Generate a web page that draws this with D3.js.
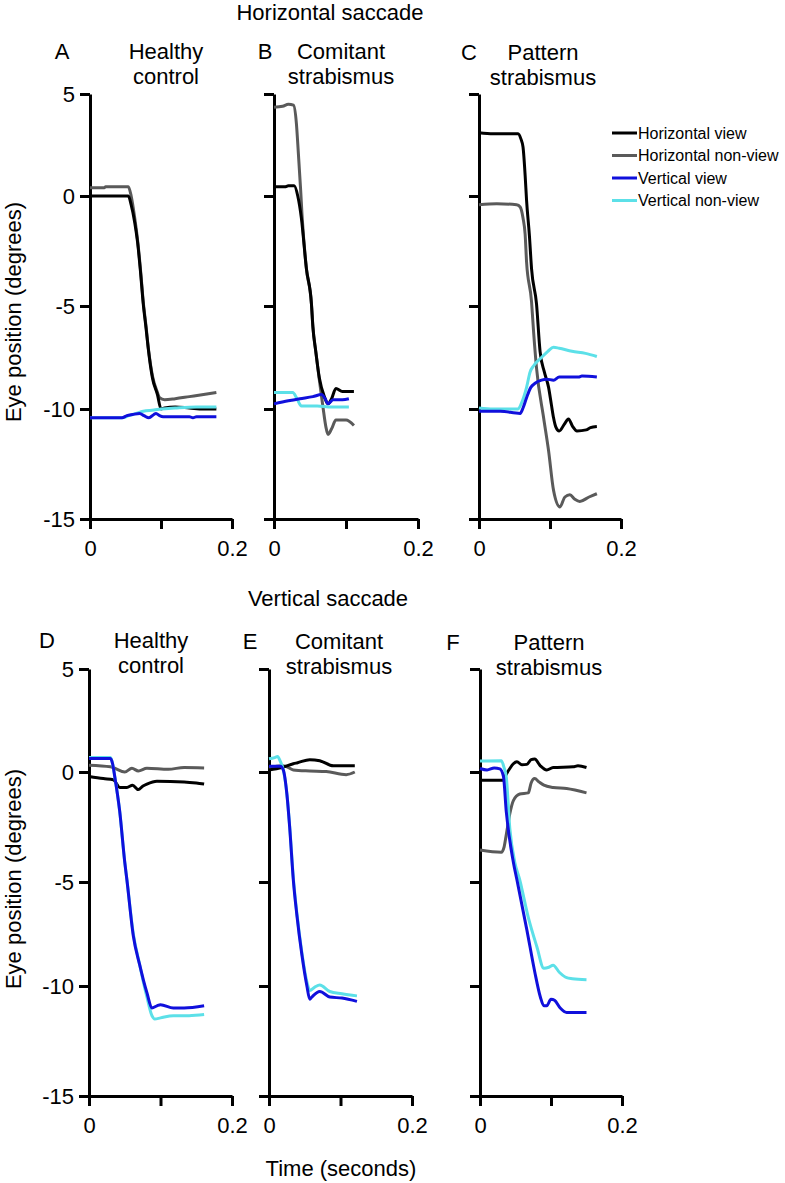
<!DOCTYPE html>
<meta charset="utf-8">
<script src="https://d3js.org/d3.v7.min.js"></script>
<style>
  body { margin: 0; background: #fff; }
  svg { font-family: "Liberation Sans", Arial, sans-serif; }
</style>
<div id="chart"></div>
<script>

// eye position traces: [time (s), position (deg)]
// A - horizontal saccade, healthy control
var aHView = [[0,0],[0.054,0],[0.058,-0.4],[0.063,-1.2],[0.067,-2.1],[0.071,-3.4],[0.075,-4.9],[0.079,-6.1],[0.082,-7.05],[0.088,-8.5],[0.095,-9.3],[0.1,-10],[0.105,-9.95],[0.12,-9.9],[0.14,-9.95],[0.16,-10],[0.178,-10]];
var aHNonView = [[0,0.4],[0.02,0.4],[0.022,0.45],[0.054,0.45],[0.058,0],[0.063,-1.0],[0.067,-2.0],[0.071,-3.3],[0.075,-4.8],[0.079,-6.0],[0.082,-7.0],[0.088,-8.4],[0.095,-9.2],[0.098,-9.45],[0.105,-9.55],[0.12,-9.5],[0.14,-9.4],[0.16,-9.3],[0.178,-9.2]];
var aVView = [[0,-10.4],[0.045,-10.4],[0.052,-10.3],[0.06,-10.25],[0.07,-10.2],[0.076,-10.3],[0.083,-10.4],[0.09,-10.25],[0.093,-10.2],[0.098,-10.3],[0.103,-10.35],[0.14,-10.35],[0.145,-10.4],[0.15,-10.35],[0.178,-10.35]];
var aVNonView = [[0,-10.4],[0.045,-10.4],[0.055,-10.3],[0.065,-10.2],[0.075,-10.1],[0.09,-10.05],[0.1,-10.0],[0.12,-9.95],[0.15,-9.9],[0.178,-9.9]];

// B - horizontal saccade, comitant strabismus
var bHView = [[0,0.45],[0.015,0.45],[0.02,0.5],[0.028,0.5],[0.033,0],[0.038,-1.0],[0.045,-3.3],[0.052,-4.9],[0.054,-6.0],[0.058,-7.2],[0.063,-8.5],[0.07,-9.4],[0.075,-9.75],[0.08,-9.5],[0.086,-9.0],[0.095,-9.15],[0.111,-9.15]];
var bHNonView = [[0,4.35],[0.012,4.4],[0.02,4.5],[0.027,4.45],[0.031,3.6],[0.034,2.0],[0.037,0.3],[0.039,-0.9],[0.045,-3.3],[0.052,-4.9],[0.054,-6.0],[0.058,-7.2],[0.063,-8.6],[0.068,-9.9],[0.072,-10.8],[0.075,-11.15],[0.08,-10.9],[0.086,-10.5],[0.095,-10.5],[0.1,-10.5],[0.111,-10.75]];
var bVView = [[0,-9.75],[0.02,-9.6],[0.036,-9.5],[0.054,-9.4],[0.066,-9.3],[0.071,-9.5],[0.075,-9.75],[0.082,-9.55],[0.095,-9.55],[0.104,-9.5]];
var bVNonView = [[0,-9.2],[0.026,-9.2],[0.032,-9.5],[0.038,-9.85],[0.06,-9.85],[0.08,-9.9],[0.104,-9.9]];

// C - horizontal saccade, pattern strabismus
var cHView = [[0,3.1],[0.02,3.05],[0.055,3.05],[0.059,2.8],[0.062,2.4],[0.065,1.0],[0.067,-0.2],[0.071,-1.8],[0.074,-3.3],[0.081,-4.9],[0.086,-7.2],[0.092,-8.2],[0.098,-8.95],[0.102,-9.8],[0.105,-10.4],[0.108,-10.8],[0.113,-11.0],[0.12,-10.7],[0.126,-10.45],[0.132,-10.8],[0.138,-11.0],[0.151,-10.95],[0.157,-10.85],[0.166,-10.8]];
var cHNonView = [[0,-0.4],[0.025,-0.35],[0.053,-0.4],[0.058,-0.5],[0.062,-1.0],[0.065,-1.75],[0.067,-3.0],[0.074,-4.8],[0.077,-6.3],[0.081,-8.0],[0.091,-10.4],[0.098,-11.9],[0.105,-13.7],[0.114,-14.45],[0.121,-14.0],[0.128,-13.9],[0.135,-14.1],[0.142,-14.2],[0.155,-14.0],[0.166,-13.85]];
var cVView = [[0,-10.1],[0.03,-10.1],[0.058,-10.2],[0.062,-9.95],[0.067,-9.45],[0.073,-8.95],[0.079,-8.75],[0.088,-8.6],[0.095,-8.55],[0.105,-8.6],[0.113,-8.45],[0.14,-8.45],[0.145,-8.4],[0.166,-8.45]];
var cVNonView = [[0,-9.95],[0.02,-10.0],[0.055,-10.0],[0.06,-9.7],[0.067,-8.95],[0.072,-8.2],[0.077,-7.9],[0.088,-7.5],[0.097,-7.2],[0.105,-7.0],[0.113,-7.05],[0.131,-7.2],[0.15,-7.3],[0.166,-7.45]];

// D - vertical saccade, healthy control
var dHView = [[0,-0.2],[0.02,-0.3],[0.034,-0.35],[0.043,-0.7],[0.053,-0.7],[0.061,-0.6],[0.069,-0.8],[0.075,-0.65],[0.081,-0.55],[0.095,-0.42],[0.133,-0.45],[0.15,-0.5],[0.161,-0.55]];
var dHNonView = [[0,0.33],[0.03,0.25],[0.036,0.18],[0.05,0.0],[0.06,0.18],[0.069,0.05],[0.081,0.18],[0.111,0.13],[0.133,0.22],[0.161,0.2]];
var dVView = [[0,0.65],[0.03,0.65],[0.033,0.4],[0.036,-0.2],[0.043,-1.8],[0.05,-4.1],[0.053,-4.9],[0.062,-7.6],[0.071,-9.0],[0.076,-9.7],[0.081,-10.3],[0.088,-11.0],[0.095,-10.9],[0.1,-10.85],[0.118,-11.0],[0.133,-11.0],[0.161,-10.9]];
var dVNonView = [[0,0.7],[0.03,0.7],[0.033,0.4],[0.036,-0.2],[0.043,-1.8],[0.05,-4.1],[0.053,-4.9],[0.062,-7.5],[0.071,-9.0],[0.076,-9.8],[0.081,-10.5],[0.088,-11.35],[0.092,-11.5],[0.1,-11.45],[0.118,-11.35],[0.14,-11.35],[0.161,-11.3]];

// E - vertical saccade, comitant strabismus
var eHView = [[0,0.1],[0.018,0.22],[0.034,0.4],[0.04,0.45],[0.057,0.6],[0.071,0.55],[0.09,0.3],[0.12,0.3]];
var eHNonView = [[0,0.2],[0.018,0.3],[0.025,0.25],[0.034,0.1],[0.057,0.05],[0.08,0.02],[0.108,-0.12],[0.12,0.0]];
var eVView = [[0,0.28],[0.016,0.28],[0.02,0.1],[0.025,-1.0],[0.029,-2.55],[0.034,-4.9],[0.039,-6.6],[0.046,-8.5],[0.053,-10.0],[0.057,-10.6],[0.06,-10.5],[0.071,-10.25],[0.085,-10.5],[0.102,-10.55],[0.123,-10.7]];
var eVNonView = [[0,0.64],[0.008,0.7],[0.012,0.75],[0.016,0.5],[0.02,0.1],[0.025,-1.0],[0.029,-2.5],[0.034,-4.8],[0.039,-6.5],[0.046,-8.4],[0.053,-9.8],[0.057,-10.2],[0.064,-10.05],[0.071,-9.95],[0.085,-10.25],[0.102,-10.35],[0.123,-10.45]];

// F - vertical saccade, pattern strabismus
var fHView = [[0,-0.37],[0.033,-0.37],[0.037,-0.1],[0.042,0.17],[0.047,0.4],[0.052,0.5],[0.059,0.35],[0.066,0.37],[0.072,0.6],[0.077,0.63],[0.085,0.3],[0.094,0.1],[0.103,0.22],[0.131,0.25],[0.138,0.3],[0.15,0.22]];
var fHNonView = [[0,-3.55],[0.03,-3.65],[0.034,-3.4],[0.037,-2.85],[0.042,-1.9],[0.047,-1.3],[0.056,-1.0],[0.068,-0.95],[0.072,-0.5],[0.077,-0.3],[0.083,-0.45],[0.09,-0.6],[0.103,-0.7],[0.122,-0.75],[0.15,-0.95]];
var fVView = [[0,0.17],[0.01,0.1],[0.02,0.2],[0.028,0.15],[0.033,-0.2],[0.037,-1.8],[0.047,-4.1],[0.052,-4.9],[0.066,-7.3],[0.077,-9.3],[0.085,-10.5],[0.09,-10.9],[0.094,-10.9],[0.1,-10.6],[0.105,-10.65],[0.113,-11.0],[0.122,-11.2],[0.15,-11.2]];
var fVNonView = [[0,0.53],[0.03,0.55],[0.034,0.2],[0.037,-0.22],[0.042,-2.56],[0.049,-4.1],[0.056,-4.9],[0.068,-6.7],[0.08,-8.1],[0.09,-9.15],[0.097,-9.1],[0.103,-9.0],[0.112,-9.35],[0.122,-9.6],[0.13,-9.65],[0.15,-9.7]];

var seriesNames = ["Horizontal view", "Horizontal non-view", "Vertical view", "Vertical non-view"];
var seriesColors = ["#000000", "#5a5a5a", "#1010dc", "#5ce0e8"];
var yTicks = [5, 0, -5, -10, -15];
var xTicks = [0, 0.1, 0.2];

// panel layout (pixel boxes); y range lists the tick pixel rows -15,-10,-5,0,5
var panels = [
  {letter: "A", title: ["Healthy", "control"], series: [aHView, aHNonView, aVView, aVNonView],
   xr: [90, 232], yr: [519, 409, 306, 196, 94], labels: true, lx: 62, tx: 166, ty: 59},
  {letter: "B", title: ["Comitant", "strabismus"], series: [bHView, bHNonView, bVView, bVNonView],
   xr: [274, 418], yr: [519, 409, 306, 196, 94], labels: false, lx: 265, tx: 341, ty: 59},
  {letter: "C", title: ["Pattern", "strabismus"], series: [cHView, cHNonView, cVView, cVNonView],
   xr: [479, 621], yr: [519, 409, 306, 196, 94], labels: false, lx: 469, tx: 543, ty: 60},
  {letter: "D", title: ["Healthy", "control"], series: [dHView, dHNonView, dVView, dVNonView],
   xr: [89, 232], yr: [1096, 986, 882, 772, 669], labels: true, lx: 47, tx: 151, ty: 648},
  {letter: "E", title: ["Comitant", "strabismus"], series: [eHView, eHNonView, eVView, eVNonView],
   xr: [269, 412], yr: [1096, 986, 882, 772, 669], labels: false, lx: 250, tx: 339, ty: 649},
  {letter: "F", title: ["Pattern", "strabismus"], series: [fHView, fHNonView, fVView, fVNonView],
   xr: [480, 622], yr: [1096, 986, 882, 772, 669], labels: false, lx: 453, tx: 549, ty: 650}
];

var svg = d3.select("#chart")
  .append("svg")
    .attr("width", 785)
    .attr("height", 1183);

var drawOrder = [1, 0, 3, 2];

panels.forEach(function(p) {
  var x = d3.scaleLinear().domain([0, 0.2]).range(p.xr);
  var y = d3.scaleLinear().domain([-15, -10, -5, 0, 5]).range(p.yr);

  var yAxis = d3.axisLeft(y)
    .tickValues(yTicks)
    .tickSize(10)
    .tickSizeOuter(0)
    .tickPadding(5)
    .tickFormat(function(d) { return p.labels ? d : ""; });

  var xAxis = d3.axisBottom(x)
    .tickValues(xTicks)
    .tickSize(10)
    .tickSizeOuter(0)
    .tickPadding(11)
    .tickFormat(function(d) { return d === 0.1 ? "" : d; });

  var gy = svg.append("g")
    .attr("transform", "translate(" + p.xr[0] + ",0)")
    .call(yAxis);
  var gx = svg.append("g")
    .attr("transform", "translate(0," + p.yr[0] + ")")
    .call(xAxis);

  [gx, gy].forEach(function(g) {
    g.attr("font-family", null).attr("font-size", 22);
    g.select(".domain").attr("stroke-width", 3);
    g.selectAll(".tick line").attr("stroke-width", 3);
    g.selectAll(".tick text").attr("fill", "#000");
  });

  var line = d3.line()
    .x(function(d) { return x(d[0]); })
    .y(function(d) { return y(d[1]); })
    .curve(d3.curveMonotoneX);

  drawOrder.forEach(function(i) {
    svg.append("path")
      .datum(p.series[i])
      .attr("fill", "none")
      .attr("stroke", seriesColors[i])
      .attr("stroke-width", 3)
      .attr("stroke-linejoin", "round")
      .attr("d", line);
  });

  // panel letter and title
  svg.append("text")
    .attr("x", p.lx).attr("y", p.ty)
    .attr("text-anchor", "middle")
    .attr("font-size", 22)
    .text(p.letter);
  p.title.forEach(function(t, k) {
    svg.append("text")
      .attr("x", p.tx).attr("y", p.ty + k * 25)
      .attr("text-anchor", "middle")
      .attr("font-size", 22)
      .text(t);
  });
});

// row headings and axis titles
svg.append("text").attr("x", 330).attr("y", 20).attr("text-anchor", "middle")
  .attr("font-size", 22).text("Horizontal saccade");
svg.append("text").attr("x", 328).attr("y", 606).attr("text-anchor", "middle")
  .attr("font-size", 22).text("Vertical saccade");
svg.append("text").attr("x", 341).attr("y", 1176).attr("text-anchor", "middle")
  .attr("font-size", 22).text("Time (seconds)");

[312, 879].forEach(function(cy) {
  svg.append("text")
    .attr("transform", "translate(21," + cy + ") rotate(-90)")
    .attr("text-anchor", "middle")
    .attr("font-size", 22)
    .text("Eye position (degrees)");
});

// legend
var legend = svg.append("g").attr("transform", "translate(612,133)");
seriesNames.forEach(function(name, i) {
  legend.append("line")
    .attr("x1", 0).attr("x2", 25)
    .attr("y1", i * 22.5).attr("y2", i * 22.5)
    .attr("stroke", seriesColors[i])
    .attr("stroke-width", 3);
  legend.append("text")
    .attr("x", 26).attr("y", i * 22.5)
    .attr("dy", "0.35em")
    .attr("font-size", 16)
    .text(name);
});

</script>
